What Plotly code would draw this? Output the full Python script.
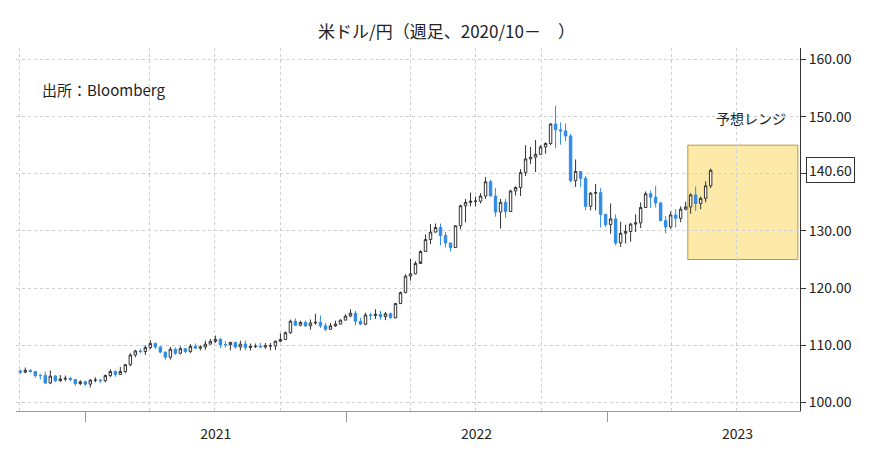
import pandas as pd
import plotly.graph_objects as go

# weekly USD/JPY (Friday close), 2020-10-02 .. 2023-05-26
closes = [105.3, 105.6, 105.4, 104.7, 104.7, 103.4, 104.6, 103.8, 104.1, 104.2, 104.0, 103.3, 103.6, 103.2,
          103.9, 103.9, 103.8, 104.7, 105.4, 104.9, 105.4, 106.6, 108.3, 109.0, 108.9, 109.6, 110.3, 109.7, 108.8, 107.9, 109.3,
          108.6, 109.4, 108.9, 109.8, 109.5, 109.7, 110.2, 110.7, 111.0, 110.1, 110.1, 110.5, 109.7, 110.2, 109.6, 109.8, 109.8,
          109.7, 109.9, 109.9, 110.7, 111.0, 112.2, 114.2, 113.5, 114.0, 113.4, 113.9, 114.0, 113.4, 112.8, 113.4, 113.7, 114.4, 115.1,
          115.6, 114.2, 113.7, 115.3, 115.2, 115.4, 115.0, 115.5, 114.8, 117.3, 119.2, 122.1, 122.5, 124.3, 126.4, 128.5, 129.8,
          130.6, 129.2, 127.9, 127.1, 130.9, 134.4, 135.0, 135.2, 135.2, 136.1, 138.6, 136.1, 133.3, 135.0, 133.4, 137.0, 137.6,
          140.2, 142.6, 142.9, 143.4, 144.7, 145.3, 148.7, 147.7, 147.5, 146.6, 138.8, 140.4, 139.2, 134.3, 136.6, 136.7, 132.9, 131.1,
          132.1, 127.9, 129.6, 129.9, 131.2, 131.4, 134.1, 136.5, 135.9, 134.9, 131.8, 130.7, 132.8, 132.2, 133.8, 134.2, 136.3,
          134.8, 135.7, 137.9, 140.6]
highs = [105.8, 106.1, 105.8, 105.5, 105.0, 105.4, 105.6, 104.8, 104.8, 104.7, 104.5, 104.1, 103.9, 103.8,
         104.1, 104.4, 104.1, 104.9, 105.8, 105.6, 106.2, 106.7, 108.6, 109.2, 109.4, 110.0, 110.9, 110.5, 109.8, 108.9, 109.7,
         109.6, 109.8, 109.5, 110.2, 110.3, 110.0, 110.8, 111.1, 111.7, 111.3, 110.7, 110.6, 110.6, 110.8, 110.8, 110.3, 110.3,
         110.4, 110.4, 110.4, 110.8, 112.1, 112.4, 114.5, 114.7, 114.3, 114.3, 114.5, 115.5, 115.2, 113.9, 113.9, 114.3, 114.5, 115.4,
         116.3, 116.0, 114.8, 115.7, 115.7, 116.3, 116.0, 115.8, 115.7, 117.4, 119.4, 122.4, 125.1, 124.7, 126.6, 129.4, 131.2,
         131.3, 131.3, 129.8, 127.6, 131.0, 134.6, 135.6, 136.7, 136.0, 136.6, 139.4, 138.9, 137.5, 135.6, 135.6, 137.2, 137.8,
         140.8, 145.0, 144.7, 145.9, 145.0, 145.5, 148.9, 151.9, 149.0, 148.8, 147.0, 142.5, 140.4, 139.6, 136.8, 138.2, 137.5, 133.0,
         134.8, 132.9, 131.6, 131.1, 131.4, 132.9, 135.0, 136.9, 137.1, 137.9, 135.1, 132.6, 133.4, 133.8, 134.3, 135.1, 136.6,
         137.8, 136.0, 138.7, 140.9]
lows = [105.0, 105.1, 105.2, 104.3, 104.0, 103.2, 103.2, 103.6, 103.6, 103.7, 103.7, 102.9, 103.0, 102.9,
        102.6, 103.5, 103.4, 103.5, 104.4, 104.5, 104.9, 105.1, 106.3, 107.9, 108.6, 108.3, 109.3, 109.4, 108.6, 107.5, 107.5,
        108.3, 108.4, 108.6, 108.6, 109.3, 109.1, 109.2, 110.2, 110.4, 109.5, 109.6, 109.1, 109.4, 109.1, 109.1, 109.1, 109.5,
        109.6, 109.4, 109.1, 109.2, 110.9, 111.0, 112.0, 113.4, 113.3, 113.2, 112.7, 113.6, 113.0, 112.5, 112.7, 113.2, 113.7, 114.4,
        114.9, 113.5, 113.5, 113.5, 114.4, 114.6, 114.5, 114.4, 114.7, 114.7, 117.2, 119.1, 121.3, 122.4, 124.7, 126.4, 127.7,
        129.7, 127.5, 127.1, 126.4, 127.2, 130.3, 131.5, 134.3, 134.3, 134.8, 135.6, 136.1, 132.5, 130.4, 132.3, 133.3, 136.2,
        136.1, 139.6, 141.7, 140.3, 143.5, 143.5, 145.0, 144.5, 145.1, 145.7, 138.5, 137.7, 137.7, 133.6, 133.6, 133.6, 130.6, 130.7,
        129.5, 127.5, 127.2, 127.8, 128.1, 129.8, 130.5, 134.0, 134.0, 134.1, 131.7, 129.6, 130.4, 130.6, 131.5, 133.6, 133.0,
        133.5, 133.8, 135.0, 137.5]
first_open = 105.5
opens = [first_open] + closes[:-1]
dates = pd.date_range("2020-10-02", periods=len(closes), freq="W-FRI")

y_ticks = [100, 110, 120, 130, 140, 150, 160]
y_labels = ["100.00", "110.00", "120.00", "130.00", "", "150.00", "160.00"]

range_start, range_end = "2023-04-24", "2023-09-25"
range_low, range_high = 125, 145
last_price = closes[-1]

FONT = "Noto Sans CJK JP"
BLUE = "#2f8be6"

fig = go.Figure(go.Candlestick(
    x=dates, open=opens, high=highs, low=lows, close=closes,
    increasing=dict(line=dict(color="#333333", width=1), fillcolor="white"),
    decreasing=dict(line=dict(color=BLUE, width=1), fillcolor=BLUE),
    whiskerwidth=0, showlegend=False,
))

fig.add_shape(type="rect", xref="x", yref="y", x0=range_start, x1=range_end,
              y0=range_low, y1=range_high, fillcolor="#fde9a8",
              line=dict(color="#b99a3a", width=1), layer="below")

fig.add_annotation(xref="paper", yref="y", x=1.0, y=last_price, text=f"{last_price:.2f}",
                   showarrow=False, xanchor="left", xshift=6, bordercolor="#333333",
                   borderwidth=1, bgcolor="white", borderpad=2, font=dict(size=14, color="#222"))
fig.add_annotation(xref="paper", yref="paper", x=0.03, y=0.92, text="出所：Bloomberg",
                   showarrow=False, xanchor="left", font=dict(size=15, color="#222"))
fig.add_annotation(xref="paper", yref="paper", x=0.985, y=0.84, text="予想レンジ",
                   showarrow=False, xanchor="right", font=dict(size=14, color="#222"))

fig.update_layout(
    title=dict(text="米ドル/円（週足、2020/10－　）", x=0.5, y=0.96, font=dict(size=17, color="#222")),
    width=877, height=459,
    margin=dict(l=8, r=85, t=40, b=56, autoexpand=False),
    plot_bgcolor="white", paper_bgcolor="white",
    font=dict(family=FONT, color="#222"),
    xaxis=dict(
        type="date", range=["2020-09-26", "2023-09-28"], rangeslider=dict(visible=False),
        dtick="M12", tick0="2020-01-01", tickformat="%Y", ticklabelmode="period",
        ticks="outside", ticklen=10, tickcolor="#999", showgrid=False,
        showline=True, linecolor="#999", tickfont=dict(size=14),
        minor=dict(dtick="M3", tick0="2020-01-01", showgrid=True, gridcolor="#cfcfcf", griddash="dot"),
    ),
    yaxis=dict(
        side="right", range=[98.5, 162], tickvals=y_ticks, ticktext=y_labels,
        ticks="outside", ticklen=5, tickcolor="#333",
        showline=True, linecolor="#333",
        showgrid=True, gridcolor="#cfcfcf", griddash="dot", tickfont=dict(size=14),
        zeroline=False,
    ),
)

fig.write_html("out.html")
